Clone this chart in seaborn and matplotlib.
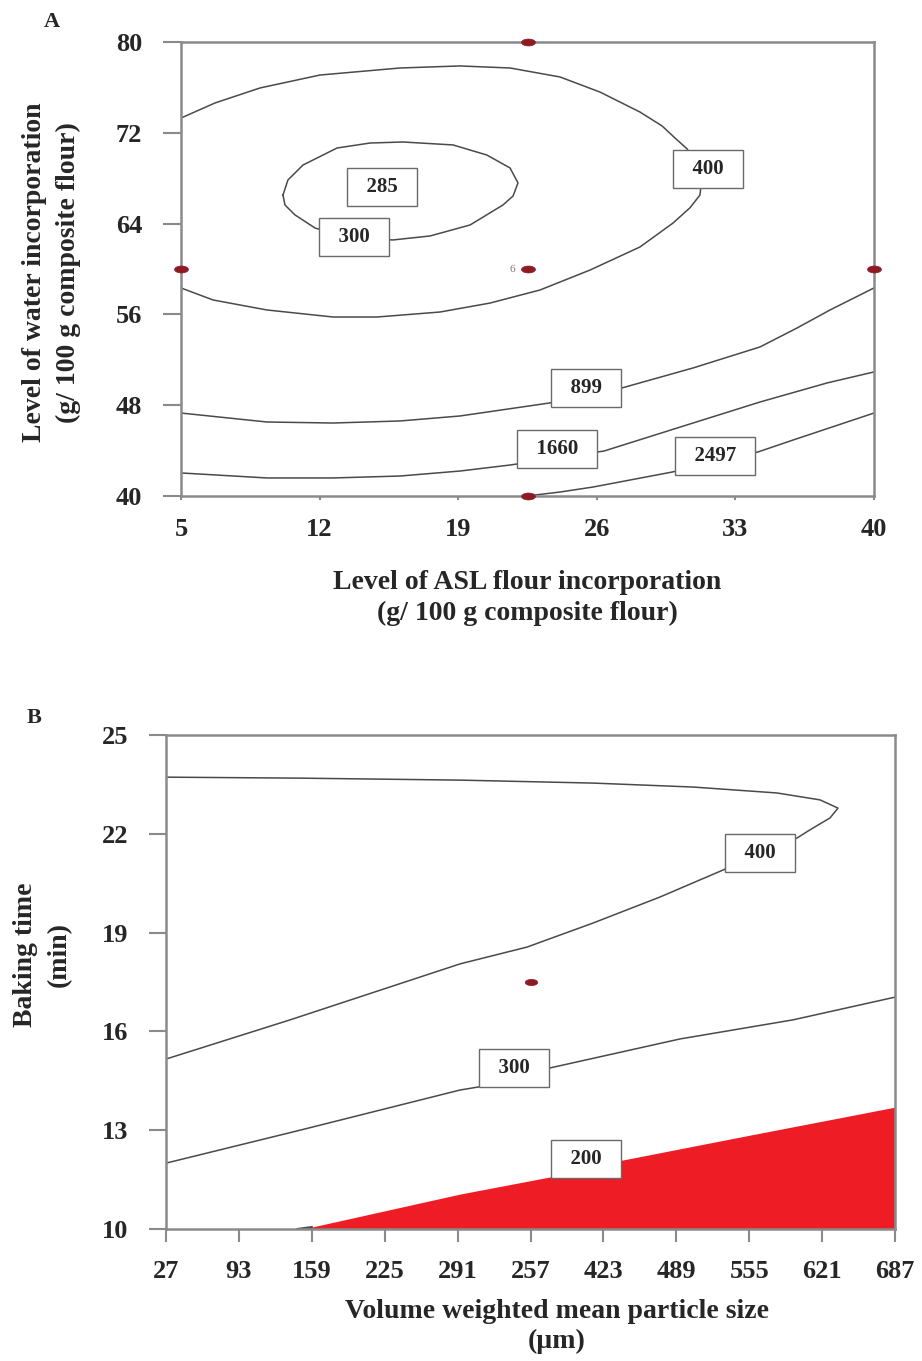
import matplotlib
matplotlib.use("Agg")
import matplotlib.pyplot as plt
import seaborn as sns
from matplotlib.path import Path
from matplotlib.transforms import Affine2D

# ---------------- Panel A: ASL flour (x) vs water (y) ----------------
a_xticks = [5, 12, 19, 26, 33, 40]
a_yticks = [40, 48, 56, 64, 72, 80]

# closed contour 300 (inner ellipse)
a_c300_x = [10.15, 10.40, 11.16, 12.88, 14.55, 16.21, 18.74, 20.45, 21.62, 22.02,
            21.77, 21.26, 19.60, 17.58, 15.71, 13.54, 11.77, 10.76, 10.25, 10.15]
a_c300_y = [66.52, 67.84, 69.16, 70.66, 71.10, 71.19, 70.93, 70.04, 68.90, 67.58,
            66.43, 65.64, 63.88, 62.91, 62.56, 62.73, 63.61, 64.76, 65.64, 66.52]
# contour 400 (open at left edge)
a_c400_x = [5.0, 6.72, 8.99, 12.02, 16.06, 19.09, 21.62, 24.14, 26.16, 28.18, 29.30, 29.95,
            30.55, 30.96, 31.31, 31.21, 30.71, 29.85, 28.18, 25.66, 23.13, 20.61, 18.08,
            14.90, 12.68, 9.34, 6.62, 5.0]
a_c400_y = [73.30, 74.63, 75.95, 77.09, 77.71, 77.89, 77.71, 76.92, 75.59, 73.83, 72.60, 71.54,
            70.60, 69.60, 68.02, 66.52, 65.40, 64.05, 61.94, 59.91, 58.15, 57.00, 56.21,
            55.77, 55.77, 56.39, 57.27, 58.33]
a_c899_x = [5.0, 9.34, 12.68, 16.06, 19.09, 23.59, 27.27, 30.86, 34.24, 36.11, 37.78, 40.0]
a_c899_y = [47.31, 46.52, 46.43, 46.61, 47.05, 48.19, 49.52, 51.28, 53.13, 54.80, 56.39, 58.33]
a_c1660_x = [5.0, 9.34, 12.68, 16.06, 19.09, 21.62, 26.36, 30.86, 34.24, 37.63, 40.0]
a_c1660_y = [42.03, 41.59, 41.59, 41.76, 42.20, 42.73, 43.96, 46.43, 48.28, 49.96, 50.93]
a_c2497_x = [22.47, 24.14, 25.81, 29.80, 34.14, 35.91, 40.0]
a_c2497_y = [40.0, 40.35, 40.79, 42.11, 43.88, 44.93, 47.31]

a_labels = ["285", "300", "400", "899", "1660", "2497"]
a_label_x = [15.15, 13.74, 31.62, 25.45, 23.99, 31.97]
a_label_y = [67.22, 62.82, 68.81, 49.52, 44.14, 43.52]

a_design_x = [22.5, 5, 22.5, 40, 22.5]
a_design_y = [80, 60, 60, 60, 40]

# ---------------- Panel B: particle size (x) vs baking time (y) ----------------
b_xticks = [27, 93, 159, 225, 291, 357, 423, 489, 555, 621, 687]
b_xticklabels = ["27", "93", "159", "225", "291", "257", "423", "489", "555", "621", "687"]
b_yticks = [10, 13, 16, 19, 22, 25]

b_c400_x = [27, 148.3, 293.2, 413.6, 504.1, 580.1, 619.1, 635.4, 628.1, 610.0, 598.2,
            531.3, 474.2, 413.6, 353.8, 293.2, 139.3, 27]
b_c400_y = [23.72, 23.69, 23.63, 23.54, 23.42, 23.24, 23.03, 22.78, 22.48, 22.12, 21.87,
            20.90, 20.08, 19.29, 18.56, 18.05, 16.35, 15.16]
b_c300_x = [27, 148.3, 293.2, 309.4, 374.6, 492.3, 594.6, 687]
b_c300_y = [12.00, 13.00, 14.22, 14.31, 14.89, 15.77, 16.35, 17.04]
b_c200_x = [145.6, 159.2, 293.2, 374.6, 439.8, 555.7, 687]
b_c200_y = [10.0, 10.06, 11.06, 11.58, 12.09, 12.85, 13.70]

b_labels = ["400", "300", "200"]
b_label_x = [564.8, 342.0, 407.2]
b_label_y = [21.42, 14.89, 12.12]

b_design_x = [357]
b_design_y = [17.5]

sns.set_style("white")
plt.rcParams["font.family"] = ["Liberation Serif", "DejaVu Serif"]
plt.rcParams["font.weight"] = "bold"

line_col = "#4a4a4a"
spine_col = "#8a8a8a"
dot_col = "#8e1b24"
tick_fs = 19
lab_fs = 20

ellipse = Path.unit_circle().transformed(Affine2D().scale(1.0, 0.5))

fig = plt.figure(figsize=(9.22, 13.61), dpi=100)
axA = fig.add_axes([181 / 922, 1 - 496 / 1361, 693 / 922, 454 / 1361])
axB = fig.add_axes([166 / 922, 1 - 1229 / 1361, 729 / 922, 494 / 1361])


def style_axes(ax, xlen, ylen):
    for s in ax.spines.values():
        s.set_color(spine_col)
        s.set_linewidth(1.8)
    ax.tick_params(axis="y", direction="out", length=ylen, width=1.5, color=spine_col,
                   pad=15, labelsize=tick_fs, left=True)
    ax.tick_params(axis="x", direction="out", length=xlen, width=1.5, color=spine_col,
                   pad=13, labelsize=tick_fs, bottom=True)
    for t in ax.get_xticklabels() + ax.get_yticklabels():
        t.set_fontweight("bold")


def box_labels(ax, labels, xs, ys):
    for lab, x, y in zip(labels, xs, ys):
        ax.text(x, y, "  " + lab + "  ", ha="center", va="center", fontsize=15,
                fontweight="bold", zorder=5,
                bbox=dict(boxstyle="square,pad=0.42", fc="white", ec="#6a6a6a", lw=1.0))


# ---- A ----
for cx, cy in [(a_c300_x, a_c300_y), (a_c400_x, a_c400_y), (a_c899_x, a_c899_y),
               (a_c1660_x, a_c1660_y), (a_c2497_x, a_c2497_y)]:
    sns.lineplot(x=cx, y=cy, sort=False, estimator=None, color=line_col, lw=1.1, ax=axA)
box_labels(axA, a_labels, a_label_x, a_label_y)
sns.scatterplot(x=a_design_x, y=a_design_y, marker=ellipse, s=100, color=dot_col,
                edgecolor=dot_col, linewidth=0.5, zorder=6, clip_on=False, ax=axA)
axA.text(21.9, 60, "6", fontsize=8, color="#777777", fontweight="normal",
         ha="right", va="center")
axA.set_xlim(5, 40)
axA.set_ylim(40, 80)
axA.set_xticks(a_xticks)
axA.set_yticks(a_yticks)
style_axes(axA, 3, 13)
axA.set_xlabel("Level of ASL flour incorporation\n(g/ 100 g composite flour)",
               fontsize=lab_fs, fontweight="bold", linespacing=1.28)
axA.set_ylabel("Level of water incorporation\n(g/ 100 g composite flour)",
               fontsize=lab_fs, fontweight="bold", linespacing=1.45)
axA.xaxis.set_label_coords(0.5, -0.163)
axA.yaxis.set_label_coords(-0.144, 0.493)
fig.text(52 / 922, 1 - 22 / 1361, "A", fontsize=16, fontweight="bold", ha="center", va="center")

# ---- B ----
axB.fill_between(b_c200_x, b_c200_y, 10, color="#ee1c25", lw=0, zorder=1)
for cx, cy in [(b_c400_x, b_c400_y), (b_c300_x, b_c300_y)]:
    sns.lineplot(x=cx, y=cy, sort=False, estimator=None, color=line_col, lw=1.1, ax=axB)
sns.lineplot(x=b_c200_x[:2], y=b_c200_y[:2], sort=False, estimator=None,
             color=line_col, lw=1.5, ax=axB)
box_labels(axB, b_labels, b_label_x, b_label_y)
sns.scatterplot(x=b_design_x, y=b_design_y, marker=ellipse, s=80, color=dot_col,
                edgecolor=dot_col, linewidth=0.5, zorder=6, ax=axB)
axB.set_xlim(27, 687)
axB.set_ylim(10, 25)
axB.set_xticks(b_xticks)
axB.set_xticklabels(b_xticklabels)
axB.set_yticks(b_yticks)
style_axes(axB, 9, 12)
axB.set_xlabel("Volume weighted mean particle size\n(\u00b5m)", fontsize=lab_fs,
               fontweight="bold", linespacing=1.25)
axB.set_ylabel("Baking time\n(min)", fontsize=lab_fs, fontweight="bold", linespacing=1.45)
axB.xaxis.set_label_coords(0.536, -0.142)
axB.yaxis.set_label_coords(-0.129, 0.555)
fig.text(34 / 922, 1 - 718 / 1361, "B", fontsize=16, fontweight="bold", ha="center", va="center")

fig.savefig("out.png", dpi=100, facecolor="white")
